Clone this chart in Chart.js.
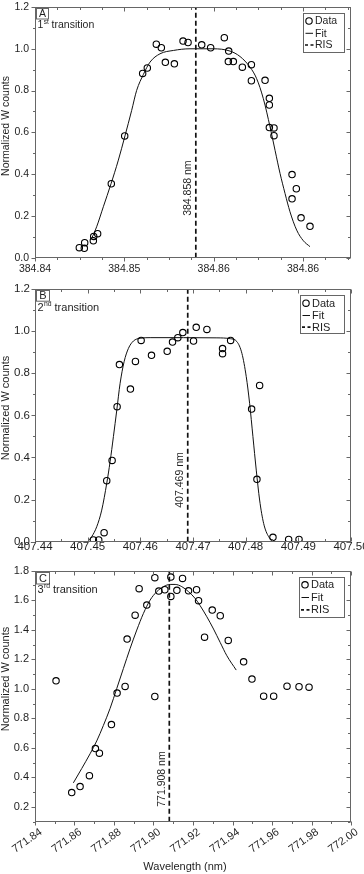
<!DOCTYPE html>
<html><head><meta charset="utf-8">
<script src="https://cdn.jsdelivr.net/npm/chart.js@4.4.0/dist/chart.umd.min.js"></script>
<style>
html,body{margin:0;padding:0;background:#fff;}
#wrap{position:relative;width:364px;height:874px;background:#fff;}
canvas{position:absolute;left:0;}
</style></head><body>
<div id="wrap">
<canvas id="cA" width="364" height="280" style="top:0px"></canvas>
<canvas id="cB" width="364" height="275" style="top:280px"></canvas>
<canvas id="cC" width="364" height="319" style="top:555px"></canvas>
</div>
<script>
// ---------- Panel A : 1st transition ----------
const aDataX = [384.84496, 384.84552, 384.84556, 384.84653, 384.84657, 384.84701, 384.84854, 384.85004, 384.85205, 384.85257, 384.85358, 384.85414, 384.85459, 384.85560, 384.85657, 384.85713, 384.85866, 384.85966, 384.86119, 384.86168, 384.86164, 384.86220, 384.86321, 384.86422, 384.86422, 384.86575, 384.86623, 384.86623, 384.86623, 384.86675, 384.86675, 384.86877, 384.86925, 384.86877, 384.86978, 384.87078];
const aDataY = [0.048, 0.045, 0.072, 0.081, 0.102, 0.115, 0.354, 0.583, 0.882, 0.908, 1.022, 1.005, 0.935, 0.928, 1.037, 1.030, 1.019, 1.005, 1.053, 0.989, 0.939, 0.939, 0.912, 0.924, 0.847, 0.849, 0.763, 0.731, 0.623, 0.621, 0.584, 0.398, 0.330, 0.282, 0.191, 0.150];
const aFitX = [384.84634, 384.84690, 384.84765, 384.84851, 384.84933, 384.85007, 384.85082, 384.85138, 384.85213, 384.85287, 384.85399, 384.85549, 384.85735, 384.85996, 384.86183, 384.86295, 384.86407, 384.86481, 384.86556, 384.86631, 384.86687, 384.86743, 384.86799, 384.86854, 384.86929, 384.87004, 384.87078];
const aFitY = [0.092, 0.148, 0.244, 0.354, 0.467, 0.583, 0.705, 0.801, 0.877, 0.936, 0.976, 0.992, 1.000, 1.000, 0.989, 0.963, 0.912, 0.857, 0.761, 0.626, 0.514, 0.403, 0.307, 0.220, 0.132, 0.081, 0.053];
const aRIS = 384.858;
const aRISLabel = "384.858 nm";
const aXTicks = [384.84, 384.85, 384.86, 384.87];
const aXTickLabels = ["384.84", "384.85", "384.86", "384.86"];
const aYTicks = [0, 0.2, 0.4, 0.6, 0.8, 1.0, 1.2];
const aYTickLabels = ["0.0", "0.2", "0.4", "0.6", "0.8", "1.0", "1.2"];

// ---------- Panel B : 2nd transition ----------
const bDataX = [407.45109, 407.45210, 407.45312, 407.45362, 407.45464, 407.45559, 407.45603, 407.45812, 407.45907, 407.46015, 407.46212, 407.46510, 407.46611, 407.46712, 407.46807, 407.47010, 407.47061, 407.47264, 407.47561, 407.47561, 407.47714, 407.48113, 407.48265, 407.48214, 407.48518, 407.48816, 407.49013];
const bDataY = [0.008, 0.008, 0.043, 0.290, 0.386, 0.641, 0.841, 0.725, 0.856, 0.956, 0.885, 0.904, 0.948, 0.969, 0.993, 0.953, 1.018, 1.008, 0.917, 0.893, 0.956, 0.630, 0.742, 0.296, 0.021, 0.011, 0.011];
const bFitX = [407.44995, 407.45077, 407.45172, 407.45267, 407.45362, 407.45426, 407.45489, 407.45553, 407.45616, 407.45692, 407.45774, 407.45869, 407.45996, 407.46186, 407.46820, 407.47454, 407.47707, 407.47834, 407.47929, 407.48011, 407.48075, 407.48138, 407.48201, 407.48265, 407.48341, 407.48436, 407.48563];
const bFitY = [0.000, 0.024, 0.071, 0.150, 0.277, 0.380, 0.499, 0.625, 0.752, 0.855, 0.918, 0.953, 0.966, 0.969, 0.969, 0.968, 0.964, 0.950, 0.894, 0.784, 0.657, 0.499, 0.340, 0.198, 0.087, 0.024, 0.000];
const bRIS = 407.469;
const bRISLabel = "407.469 nm";
const bXTicks = [407.44, 407.45, 407.46, 407.47, 407.48, 407.49, 407.50];
const bXTickLabels = ["407.44", "407.45", "407.46", "407.47", "407.48", "407.49", "407.50"];
const bYTicks = [0, 0.2, 0.4, 0.6, 0.8, 1.0, 1.2];
const bYTickLabels = ["0.0", "0.2", "0.4", "0.6", "0.8", "1.0", "1.2"];

// ---------- Panel C : 3rd transition ----------
const cDataX = [771.85065, 771.85859, 771.86282, 771.86755, 771.87058, 771.87261, 771.87870, 771.88157, 771.88562, 771.88664, 771.89070, 771.89272, 771.89661, 771.90067, 771.90067, 771.90269, 771.90574, 771.90878, 771.90878, 771.91183, 771.91470, 771.91774, 771.92180, 771.92281, 771.92585, 771.92974, 771.93380, 771.93785, 771.94563, 771.94985, 771.95577, 771.96084, 771.96760, 771.97368, 771.97875];
const cDataY = [1.054, 0.297, 0.338, 0.412, 0.595, 0.564, 0.758, 0.971, 1.016, 1.337, 1.499, 1.678, 1.567, 0.948, 1.753, 1.662, 1.671, 1.757, 1.626, 1.667, 1.748, 1.664, 1.671, 1.597, 1.350, 1.533, 1.495, 1.328, 1.183, 1.066, 0.950, 0.950, 1.018, 1.014, 1.011];
const cFitX = [771.85943, 771.86365, 771.86788, 771.87126, 771.87463, 771.87801, 771.88139, 771.88477, 771.88815, 771.89153, 771.89491, 771.89829, 771.90167, 771.90505, 771.90842, 771.91096, 771.91434, 771.91772, 771.92110, 771.92363, 771.92701, 771.93039, 771.93377, 771.93715, 771.94188];
const cFitY = [0.363, 0.460, 0.560, 0.647, 0.752, 0.867, 1.002, 1.138, 1.273, 1.398, 1.511, 1.601, 1.658, 1.692, 1.707, 1.707, 1.692, 1.658, 1.612, 1.563, 1.488, 1.405, 1.314, 1.224, 1.127];
const cRIS = 771.908;
const cRISLabel = "771.908 nm";
const cXTicks = [771.84, 771.86, 771.88, 771.90, 771.92, 771.94, 771.96, 771.98, 772.00];
const cXTickLabels = ["771.84", "771.86", "771.88", "771.90", "771.92", "771.94", "771.96", "771.98", "772.00"];
const cYTicks = [0.2, 0.4, 0.6, 0.8, 1.0, 1.2, 1.4, 1.6, 1.8];
const cYTickLabels = ["0.2", "0.4", "0.6", "0.8", "1.0", "1.2", "1.4", "1.6", "1.8"];

const legendLabels = ["Data", "Fit", "RIS"];
const yTitle = "Normalized W counts";
const xTitle = "Wavelength (nm)";

// ---------- drawing helpers ----------
const FONT = "'Liberation Sans', Arial, Helvetica, sans-serif";
const FRAME = '#666666';
const TEXT = '#1f1f1f';

function tickSet(major, n, lo, hi) {
  const out = major.map(v => ({ v, major: true }));
  if (n > 0 && major.length > 1) {
    const sub = (major[1] - major[0]) / (n + 1), eps = sub * 1e-6;
    const k0 = Math.floor((lo - major[0]) / sub) - 1, k1 = Math.ceil((hi - major[0]) / sub) + 1;
    for (let k = k0; k <= k1; k++) {
      if ((((k % (n + 1)) + (n + 1)) % (n + 1)) === 0) continue;
      const v = major[0] + k * sub;
      if (v < lo - eps || v > hi + eps) continue;
      out.push({ v, major: false });
    }
  }
  return out;
}

const framePlugin = {
  id: 'frame',
  afterDraw(chart, args, o) {
    const ctx = chart.ctx, ca = chart.chartArea, xs = chart.scales.x, ys = chart.scales.y;
    ctx.save();
    ctx.strokeStyle = FRAME; ctx.lineWidth = 1; ctx.setLineDash([]);
    const L = Math.round(ca.left) + 0.5, R = Math.round(ca.right) - 0.5;
    const T = Math.round(ca.top) + 0.5, B = Math.round(ca.bottom) - 0.5;
    ctx.strokeRect(L, T, R - L, B - T);
    ctx.beginPath();
    for (const t of tickSet(o.xMajor, o.xMinorN, xs.min, xs.max)) {
      const px = Math.round(xs.getPixelForValue(t.v)) + 0.5;
      const len = t.major ? 4 : 2.5;
      ctx.moveTo(px, B); ctx.lineTo(px, o.bottomOut ? B + len : B - len);
      ctx.moveTo(px, T); ctx.lineTo(px, T + len);
    }
    for (const t of tickSet(o.yMajor, o.yMinorN, ys.min, ys.max)) {
      const py = Math.round(ys.getPixelForValue(t.v)) + 0.5;
      const len = t.major ? 4 : 2.5;
      ctx.moveTo(L, py); ctx.lineTo(L - len, py);
      ctx.moveTo(R, py); ctx.lineTo(R - len, py);
    }
    ctx.stroke();

    // legend box
    const lg = o.legend, ds = chart.data.datasets;
    const bx = Math.round(ca.right - lg.rightInset - lg.w) + 0.5, by = Math.round(ca.top + lg.topInset) + 0.5;
    ctx.strokeStyle = FRAME;
    ctx.strokeRect(bx, by, lg.w, lg.h);
    ctx.font = lg.size + 'px ' + FONT; ctx.fillStyle = TEXT;
    ctx.textBaseline = 'middle'; ctx.textAlign = 'left';
    const rows = lg.rows;
    ctx.strokeStyle = ds[0].pointBorderColor; ctx.lineWidth = ds[0].pointBorderWidth;
    ctx.beginPath(); ctx.arc(bx + 5.5, by + rows[0], ds[0].pointRadius, 0, Math.PI * 2); ctx.stroke();
    ctx.strokeStyle = ds[1].borderColor; ctx.lineWidth = ds[1].borderWidth;
    ctx.beginPath(); ctx.moveTo(bx + 2, by + rows[1]); ctx.lineTo(bx + 9.5, by + rows[1]); ctx.stroke();
    ctx.strokeStyle = ds[2].borderColor; ctx.lineWidth = ds[2].borderWidth; ctx.setLineDash([3, 2.5]);
    ctx.beginPath(); ctx.moveTo(bx + 1.5, by + rows[2]); ctx.lineTo(bx + 11, by + rows[2]); ctx.stroke();
    ctx.setLineDash([]);
    for (let i = 0; i < 3; i++) ctx.fillText(legendLabels[i], bx + 11.5, by + rows[i] + 0.5);

    // panel letter box
    ctx.strokeStyle = FRAME; ctx.lineWidth = 1;
    const lx = Math.round(ca.left + 1) + 0.5, ly = Math.round(ca.top + 1) + 0.5;
    ctx.strokeRect(lx, ly, o.letterBox[0], o.letterBox[1]);
    ctx.font = o.letterSize + 'px ' + FONT; ctx.textAlign = 'center'; ctx.fillStyle = TEXT;
    ctx.fillText(o.letter, lx + o.letterBox[0] / 2, ly + o.letterBox[1] / 2 + 0.5);

    // transition text with superscript
    ctx.textAlign = 'left';
    let tx = ca.left + 2.5; const ty = ca.top + o.transDy;
    ctx.font = o.transSize + 'px ' + FONT;
    ctx.fillText(o.transNum, tx, ty); tx += ctx.measureText(o.transNum).width + 0.3;
    ctx.font = (o.transSize * 0.62) + 'px ' + FONT;
    ctx.fillText(o.transSup, tx, ty - o.transSize * 0.33); tx += ctx.measureText(o.transSup).width;
    ctx.font = o.transSize + 'px ' + FONT;
    ctx.fillText(' transition', tx, ty);

    // RIS label (rotated)
    ctx.save();
    ctx.translate(xs.getPixelForValue(o.ris) - 7.5, ys.getPixelForValue(o.risLabelAt));
    ctx.rotate(-Math.PI / 2);
    ctx.font = o.risSize + 'px ' + FONT; ctx.textAlign = 'center'; ctx.textBaseline = 'middle';
    ctx.fillText(o.risLabel, 0, 0);
    ctx.restore();

    // y axis title
    ctx.save();
    ctx.translate(o.yTitleX, o.yTitleY);
    ctx.rotate(-Math.PI / 2);
    ctx.font = o.yTitleSize + 'px ' + FONT; ctx.textAlign = 'center'; ctx.textBaseline = 'middle';
    ctx.fillText(yTitle, 0, 0);
    ctx.restore();

    // x axis title
    if (o.xTitle) {
      ctx.font = o.xTitleSize + 'px ' + FONT; ctx.textAlign = 'center'; ctx.textBaseline = 'middle';
      ctx.fillText(o.xTitle, o.xTitlePos[0], o.xTitlePos[1]);
    }
    ctx.restore();
  }
};

function makePanel(id, p) {
  const pts = (xs, ys) => xs.map((x, i) => ({ x, y: ys[i] }));
  return new Chart(document.getElementById(id), {
    type: 'scatter',
    data: {
      datasets: [
        { label: legendLabels[0], data: pts(p.dataX, p.dataY), showLine: false, pointStyle: 'circle',
          pointRadius: 3.2, pointBorderWidth: 1.1, pointBorderColor: '#000000', pointBackgroundColor: 'rgba(255,255,255,0)', order: 0 },
        { label: legendLabels[1], data: pts(p.fitX, p.fitY), showLine: true, pointRadius: 0, borderColor: '#111111',
          borderWidth: 1, cubicInterpolationMode: 'monotone', fill: false, order: 1 },
        { label: legendLabels[2], data: [{ x: p.ris, y: p.yMin }, { x: p.ris, y: p.yMax }], showLine: true, pointRadius: 0,
          borderColor: '#111111', borderWidth: 1.7, borderDash: [5, 3], fill: false, order: 2 }
      ]
    },
    options: {
      responsive: false, animation: false, devicePixelRatio: 1,
      layout: { padding: { top: p.padTop, right: 13, left: 0, bottom: 0 } },
      plugins: { legend: { display: false }, tooltip: { enabled: false }, title: { display: false }, frame: p.frame },
      scales: {
        x: {
          type: 'linear', min: p.xMin, max: p.xMax,
          afterBuildTicks: s => { s.ticks = p.xTicks.map(v => ({ value: v })); },
          ticks: { autoSkip: false, callback: (v, i) => p.xTickLabels[i], color: TEXT,
                   font: { family: FONT, size: p.xFont }, padding: p.xPad,
                   minRotation: p.rot, maxRotation: p.rot, labelOffset: p.labelOffset },
          grid: { display: false, drawTicks: false }, border: { display: false },
          afterFit: s => { s.height = p.xHeight; s.paddingLeft = 0; s.paddingRight = 0; }
        },
        y: {
          type: 'linear', min: p.yMin, max: p.yMax,
          afterBuildTicks: s => { s.ticks = p.yTicks.map(v => ({ value: v })); },
          ticks: { autoSkip: false, callback: (v, i) => p.yTickLabels[i], color: TEXT,
                   font: { family: FONT, size: p.yFont }, padding: p.yPad },
          grid: { display: false, drawTicks: false }, border: { display: false },
          afterFit: s => { s.width = 35; s.paddingTop = 0; s.paddingBottom = 0; }
        }
      }
    },
    plugins: [framePlugin]
  });
}

makePanel('cA', {
  dataX: aDataX, dataY: aDataY, fitX: aFitX, fitY: aFitY, ris: aRIS,
  xMin: 384.84, xMax: 384.87537, yMin: 0, yMax: 1.2,
  xTicks: aXTicks, xTickLabels: aXTickLabels, yTicks: aYTicks, yTickLabels: aYTickLabels,
  padTop: 7, xHeight: 22.3, xFont: 10.5, xPad: 5.5, rot: 0, labelOffset: 0, yFont: 10.5, yPad: 6,
  frame: { xMajor: aXTicks, xMinorN: 3, yMajor: aYTicks, yMinorN: 1, bottomOut: true,
    legend: { rightInset: 7.5, topInset: 5.5, w: 41, h: 39, rows: [7.5, 19.8, 31.5], size: 10.5 },
    letter: 'A', letterBox: [12, 10.5], letterSize: 10.5,
    transNum: '1', transSup: 'st', transSize: 10.5, transDy: 18.5,
    ris: aRIS, risLabel: aRISLabel, risLabelAt: 0.333, risSize: 10.5,
    yTitleX: 6, yTitleY: 126, yTitleSize: 10.5 }
});

makePanel('cB', {
  dataX: bDataX, dataY: bDataY, fitX: bFitX, fitY: bFitY, ris: bRIS,
  xMin: 407.44, xMax: 407.50, yMin: 0, yMax: 1.2,
  xTicks: bXTicks, xTickLabels: bXTickLabels, yTicks: bYTicks, yTickLabels: bYTickLabels,
  padTop: 9, xHeight: 13.3, xFont: 11.5, xPad: -1.5, rot: 0, labelOffset: 0, yFont: 11.5, yPad: 5,
  frame: { xMajor: bXTicks, xMinorN: 1, yMajor: bYTicks, yMinorN: 1, bottomOut: false,
    legend: { rightInset: 7, topInset: 6, w: 44, h: 38, rows: [7.7, 20, 31.7], size: 11 },
    letter: 'B', letterBox: [13, 10.7], letterSize: 11,
    transNum: '2', transSup: 'nd', transSize: 11, transDy: 19,
    ris: bRIS, risLabel: bRISLabel, risLabelAt: 0.293, risSize: 10.5,
    yTitleX: 6, yTitleY: 128, yTitleSize: 11 }
});

makePanel('cC', {
  dataX: cDataX, dataY: cDataY, fitX: cFitX, fitY: cFitY, ris: cRIS,
  xMin: 771.84, xMax: 772.00, yMin: 0.1, yMax: 1.8,
  xTicks: cXTicks, xTickLabels: cXTickLabels, yTicks: cYTicks, yTickLabels: cYTickLabels,
  padTop: 15.7, xHeight: 52.3, xFont: 11, xPad: 4, rot: 35, labelOffset: 6, yFont: 11, yPad: 6,
  frame: { xMajor: cXTicks, xMinorN: 1, yMajor: cYTicks, yMinorN: 1, bottomOut: true,
    legend: { rightInset: 7, topInset: 6, w: 45, h: 40, rows: [7.3, 20, 32.3], size: 11 },
    letter: 'C', letterBox: [13, 11.5], letterSize: 11,
    transNum: '3', transSup: 'rd', transSize: 11, transDy: 19,
    ris: cRIS, risLabel: cRISLabel, risLabelAt: 0.389, risSize: 10.5,
    yTitleX: 6, yTitleY: 124, yTitleSize: 11,
    xTitle: xTitle, xTitleSize: 11, xTitlePos: [185, 311.7] }
});
</script>
</body></html>
